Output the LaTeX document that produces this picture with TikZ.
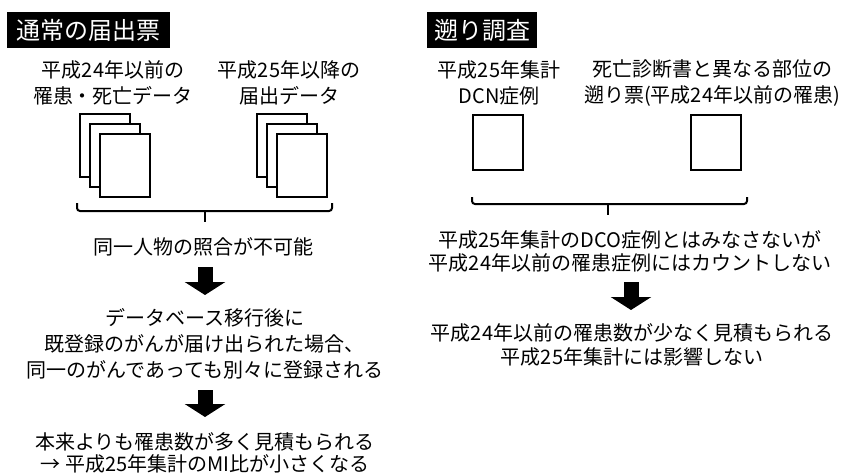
\documentclass[tikz,border=0pt]{standalone}
\usepackage{fontspec}
\setmainfont{Noto Sans CJK JP}
\usetikzlibrary{arrows.meta}

\tikzset{
  title/.style={fill=black,text=white,minimum height=36pt,inner sep=0pt,font=\fontsize{24pt}{28pt}\selectfont},
  label/.style={align=center,inner sep=0pt,font=\fontsize{20pt}{26pt}\selectfont},
  sheet/.style={draw,fill=white,line width=2pt,minimum width=50pt,minimum height=63pt,inner sep=0pt},
  bracket/.style={line width=2pt,rounded corners=3pt},
  bigarrow/.style={line width=15pt,-{Triangle[length=13pt,width=40pt]}}
}

\begin{document}
\begin{tikzpicture}[x=1pt,y=-1pt]
\useasboundingbox (0,0) rectangle (847,472);

\draw (88.5,30) node[title,minimum width=163pt](tnormal) {通常の届出票};
\draw (482,30) node[title,minimum width=110pt](tback) {遡り調査};

\draw (113,83) node[label](lold) {平成24年以前の\\罹患・死亡データ};
\draw (289,83) node[label](lnew) {平成25年以降の\\届出データ};
\draw (499,83) node[label](ldcn) {平成25年集計\\DCN症例};
\draw (712,83) node[label](lsite) {死亡診断書と異なる部位の\\遡り票(平成24年以前の罹患)};

\draw (105,145) node[sheet](olda) {};
\draw (115,155) node[sheet](oldb) {};
\draw (125,165) node[sheet](oldc) {};
\draw (282,145) node[sheet](newa) {};
\draw (292,155) node[sheet](newb) {};
\draw (302,165) node[sheet](newc) {};
\draw (498,142.5) node[sheet,minimum height=55pt](dcn) {};
\draw (716,142.5) node[sheet,minimum height=55pt](site) {};

\draw[bracket] (77,203) -- (77,211) -- (332,211) -- (332,203);
\draw[bracket] (204.5,211) -- (204.5,222);
\draw[bracket] (472,197) -- (472,204) -- (747,204) -- (747,197);
\draw[bracket] (608,204) -- (608,215);

\draw (203,247) node[label](nomatch) {同一人物の照合が不可能};
\draw (205,344) node[label](twice) {データベース移行後に\\既登録のがんが届け出られた場合、\\同一のがんであっても別々に登録される};
\draw (205,452.5) node[label,font=\fontsize{20pt}{22pt}\selectfont](over) {本来よりも罹患数が多く見積もられる\\→ 平成25年集計のMI比が小さくなる};
\draw (630,251.5) node[label,font=\fontsize{20pt}{23pt}\selectfont](notdco) {平成25年集計のDCO症例とはみなさないが\\平成24年以前の罹患症例にはカウントしない};
\draw (632,345) node[label,font=\fontsize{20pt}{24pt}\selectfont](under) {平成24年以前の罹患数が少なく見積もられる\\平成25年集計には影響しない};

\coordinate (a1s) at (205,267);
\coordinate (a1e) at (205,295);
\coordinate (a2s) at (205,390);
\coordinate (a2e) at (205,417);
\coordinate (a3s) at (631,282);
\coordinate (a3e) at (631,310);
\draw[bigarrow] (a1s) -- (a1e);
\draw[bigarrow] (a2s) -- (a2e);
\draw[bigarrow] (a3s) -- (a3e);
\end{tikzpicture}
\end{document}
